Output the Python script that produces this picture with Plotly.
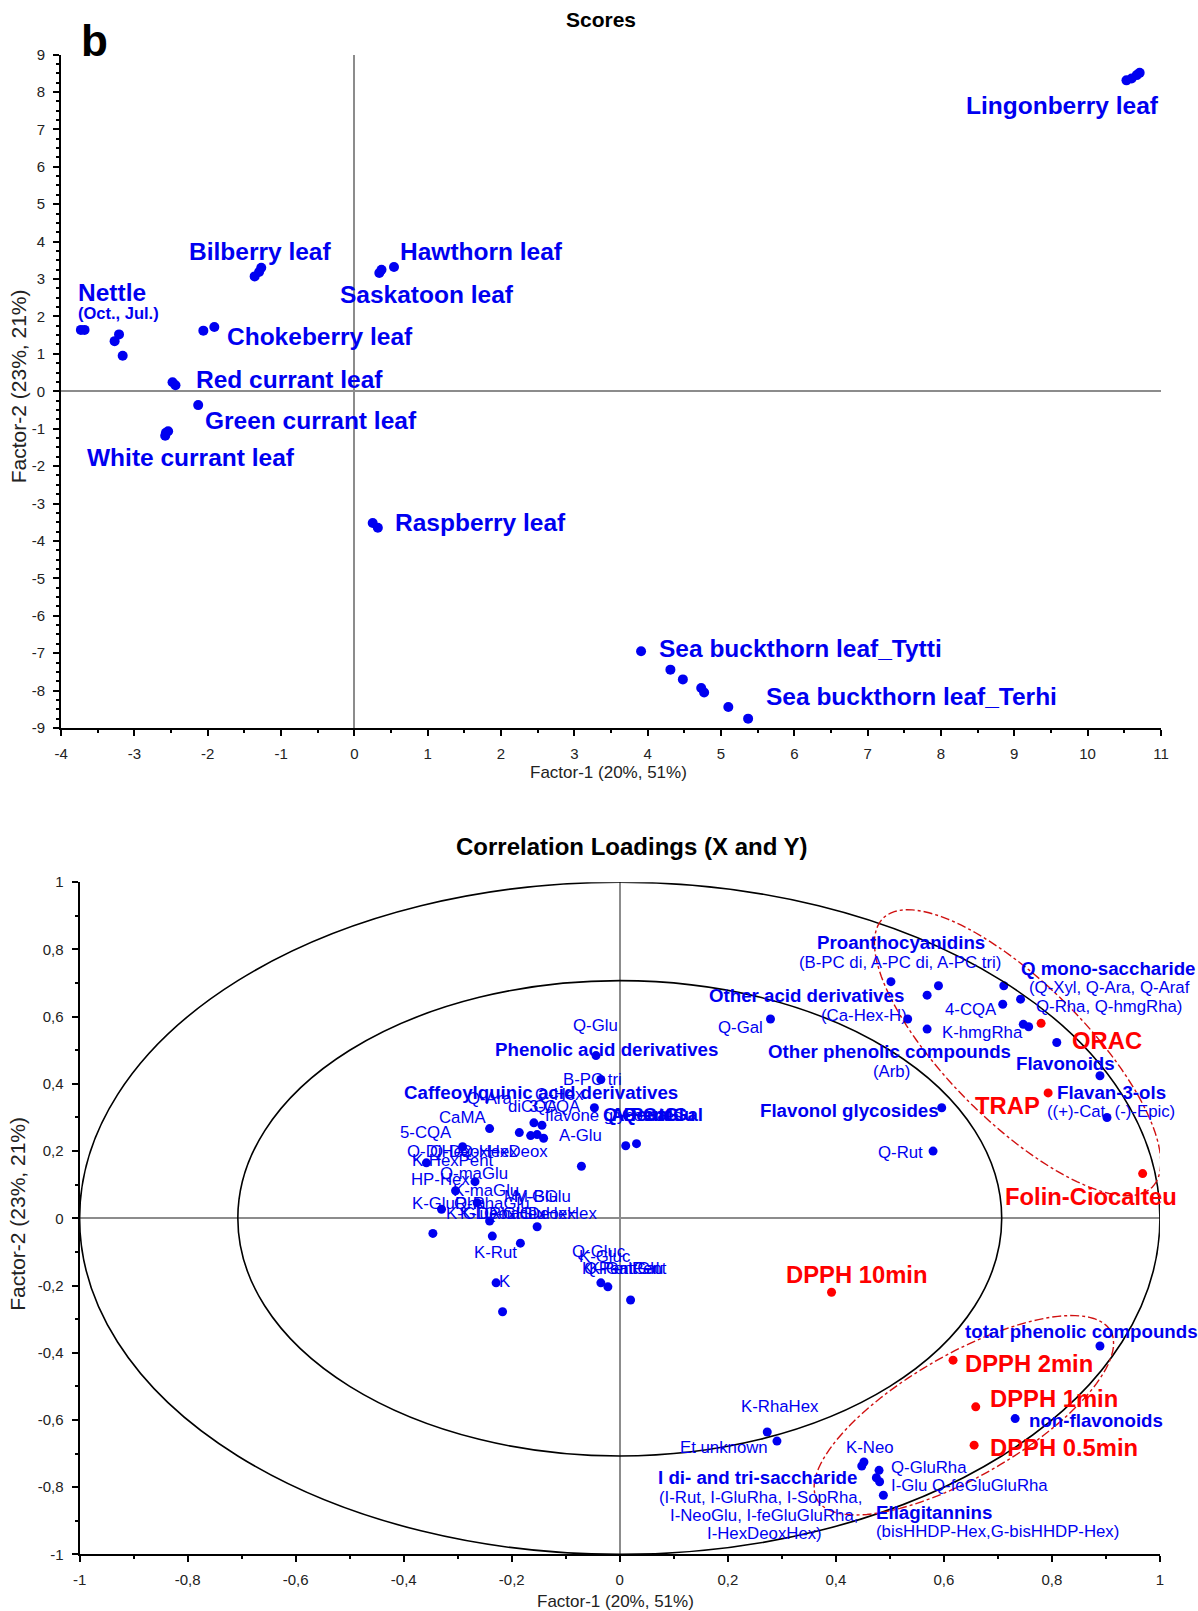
import numpy as np
import plotly.graph_objects as go

# page geometry: the figure is drawn with an 8 px body margin and a slight
# overall reduction when photographed, so page positions are mapped back here
BODY_MARGIN = 8
S_X, S_Y = 0.986, 0.989
W, H = 1215, 1630
FONT = "Liberation Sans, Arial, sans-serif"
BLUE = "#0000f0"
RED = "#ff0000"


def paper(xp, yp):
    """Page pixel position -> paper coordinates."""
    fx = (xp - BODY_MARGIN) / S_X
    fy = (yp - BODY_MARGIN) / S_Y
    return fx / W, 1 - fy / H


# ---------------- Scores (PC1 vs PC2) ----------------
lingonberry_x = [10.53, 10.60, 10.67, 10.71]
lingonberry_y = [8.31, 8.36, 8.45, 8.51]
bilberry_x = [-1.36, -1.30, -1.27]
bilberry_y = [3.07, 3.19, 3.30]
hawthorn_saskatoon_x = [0.34, 0.37, 0.54]
hawthorn_saskatoon_y = [3.16, 3.25, 3.32]
nettle_x = [-3.73, -3.68, -3.21, -3.27, -3.16]
nettle_y = [1.64, 1.64, 1.52, 1.34, 0.95]
chokeberry_x = [-2.06, -1.91]
chokeberry_y = [1.62, 1.72]
red_currant_x = [-2.48, -2.44]
red_currant_y = [0.24, 0.16]
green_currant_x = [-2.13]
green_currant_y = [-0.37]
white_currant_x = [-2.57, -2.54, -2.58]
white_currant_y = [-1.11, -1.07, -1.19]
raspberry_x = [0.25, 0.32]
raspberry_y = [-3.52, -3.65]
sea_buckthorn_x = [3.91, 4.31, 4.48, 4.73, 4.77, 5.10, 5.37]
sea_buckthorn_y = [-6.95, -7.44, -7.70, -7.93, -8.05, -8.44, -8.75]

score_groups = [
    (lingonberry_x, lingonberry_y),
    (bilberry_x, bilberry_y),
    (hawthorn_saskatoon_x, hawthorn_saskatoon_y),
    (nettle_x, nettle_y),
    (chokeberry_x, chokeberry_y),
    (red_currant_x, red_currant_y),
    (green_currant_x, green_currant_y),
    (white_currant_x, white_currant_y),
    (raspberry_x, raspberry_y),
    (sea_buckthorn_x, sea_buckthorn_y),
]

# sample labels: (text, x, y, size)
score_labels = [
    ("Lingonberry leaf", 8.32, 7.65, 24.5),
    ("Bilberry leaf", -2.28, 3.74, 24.5),
    ("Hawthorn leaf", 0.60, 3.74, 24.5),
    ("Nettle", -3.80, 2.65, 24.5),
    ("(Oct., Jul.)", -3.80, 2.09, 16.5),
    ("Saskatoon leaf", -0.22, 2.59, 24.5),
    ("Chokeberry leaf", -1.77, 1.47, 24.5),
    ("Red currant leaf", -2.19, 0.32, 24.5),
    ("Green currant leaf", -2.06, -0.78, 24.5),
    ("White currant leaf", -3.67, -1.76, 24.5),
    ("Raspberry leaf", 0.52, -3.50, 24.5),
    ("Sea buckthorn leaf_Tytti", 4.13, -6.87, 24.5),
    ("Sea buckthorn leaf_Terhi", 5.58, -8.16, 24.5),
]

# ---------------- Correlation loadings ----------------
# X variables (phenolic compounds)
loading_x = [
    0.502, 0.569, 0.590, 0.711, 0.709, 0.742, 0.747, 0.757, 0.809, 0.533,
    0.569, 0.279, 0.889, 0.902, 0.596, 0.580,
    -0.044, -0.035, -0.047, -0.159, -0.144, -0.241, -0.186, -0.165, -0.153, -0.141,
    0.011, 0.031, -0.071, -0.291, -0.358, -0.268, -0.304, -0.264, -0.330, -0.241,
    -0.346, -0.236, -0.153, -0.184,
    -0.229, -0.217, -0.035, -0.022, 0.020,
    0.273, 0.291, 0.452, 0.448, 0.480, 0.475, 0.481, 0.488, 0.732, 0.889,
]
loading_y = [
    0.704, 0.664, 0.692, 0.692, 0.637, 0.652, 0.577, 0.570, 0.523, 0.593,
    0.563, 0.593, 0.424, 0.300, 0.329, 0.200,
    0.484, 0.413, 0.329, 0.284, 0.277, 0.267, 0.255, 0.246, 0.249, 0.238,
    0.216, 0.222, 0.155, 0.213, 0.165, 0.109, 0.082, 0.046, 0.027, -0.008,
    -0.045, -0.053, -0.025, -0.074,
    -0.192, -0.278, -0.192, -0.204, -0.243,
    -0.636, -0.663, -0.725, -0.737, -0.750, -0.772, -0.784, -0.824, -0.596, -0.380,
]

# Y variables (antioxidant assays)
assay_names = ["ORAC", "TRAP", "Folin-Ciocalteu", "DPPH 10min",
               "DPPH 2min", "DPPH 1min", "DPPH 0.5min"]
assay_x = [0.780, 0.793, 0.968, 0.392, 0.617, 0.659, 0.656]
assay_y = [0.580, 0.373, 0.133, -0.220, -0.422, -0.561, -0.675]

# text placements: (text, x, y, style)  style: n=normal, b=bold, r=assay
loading_labels = [
    ("Proanthocyanidins", 0.361, 0.821, "b"),
    ("(B-PC di, A-PC di, A-PC tri)", 0.328, 0.760, "n"),
    ("Q mono-saccharide", 0.739, 0.743, "b"),
    ("(Q-Xyl, Q-Ara, Q-Araf", 0.753, 0.686, "n"),
    ("Q-Rha, Q-hmgRha)", 0.767, 0.629, "n"),
    ("Other acid derivatives", 0.161, 0.662, "b"),
    ("(Ca-Hex-H)", 0.368, 0.603, "n"),
    ("4-CQA", 0.599, 0.621, "n"),
    ("Q-Gal", 0.178, 0.568, "n"),
    ("K-hmgRha", 0.592, 0.552, "n"),
    ("Other phenolic compounds", 0.271, 0.496, "b"),
    ("Flavonoids", 0.730, 0.461, "b"),
    ("(Arb)", 0.465, 0.438, "n"),
    ("Flavan-3-ols", 0.805, 0.374, "b"),
    ("((+)-Cat, (-)-Epic)", 0.787, 0.317, "n"),
    ("Flavonol glycosides", 0.255, 0.320, "b"),
    ("Q-Rut", 0.475, 0.196, "n"),
    ("Q-Glu", -0.091, 0.575, "n"),
    ("Phenolic acid derivatives", -0.235, 0.502, "b"),
    ("B-PC tri", -0.109, 0.414, "n"),
    ("Q-Ara", -0.287, 0.355, "n"),
    ("Q-Hex", -0.160, 0.367, "n"),
    ("diCQA", -0.210, 0.332, "n"),
    ("3-CQA", -0.172, 0.332, "n"),
    ("Caffeoylquinic acid derivatives", -0.404, 0.374, "b"),
    ("flavone glycosides", -0.143, 0.305, "n"),
    ("Q-PentGlu", -0.034, 0.310, "b"),
    ("A-Pent", -0.020, 0.310, "b"),
    ("Q-GalGal", 0.000, 0.310, "b"),
    ("A-Glu", -0.117, 0.246, "n"),
    ("CaMA", -0.338, 0.300, "n"),
    ("5-CQA", -0.411, 0.255, "n"),
    ("Q-DiHex", -0.398, 0.200, "n"),
    ("Q-DeoxHex", -0.355, 0.200, "n"),
    ("Q-HexDeox", -0.300, 0.200, "n"),
    ("K-HexPent", -0.389, 0.173, "n"),
    ("HP-Hex", -0.390, 0.115, "n"),
    ("Q-maGlu", -0.337, 0.133, "n"),
    ("K-maGlu", -0.312, 0.082, "n"),
    ("My-Glu", -0.218, 0.066, "n"),
    ("M-BGlu", -0.200, 0.066, "n"),
    ("K-GluRha", -0.389, 0.043, "n"),
    ("Q-RhaGlu", -0.310, 0.043, "n"),
    ("K-GluRhaGlu", -0.325, 0.013, "n"),
    ("K-DeoxHexHex", -0.300, 0.013, "n"),
    ("Q-GlcDeoxHex", -0.255, 0.013, "n"),
    ("K-Rut", -0.273, -0.102, "n"),
    ("K", -0.228, -0.187, "n"),
    ("Q-Gluc", -0.092, -0.098, "n"),
    ("K-Gluc", -0.080, -0.115, "n"),
    ("K-PentGal", -0.073, -0.150, "n"),
    ("Q-PentGlu", -0.070, -0.150, "n"),
    ("K-GalPent", -0.060, -0.150, "n"),
    ("total phenolic compounds", 0.636, -0.338, "b"),
    ("non-flavonoids", 0.753, -0.601, "b"),
    ("K-RhaHex", 0.221, -0.561, "n"),
    ("Et unknown", 0.107, -0.682, "n"),
    ("K-Neo", 0.415, -0.682, "n"),
    ("Q-GluRha", 0.498, -0.742, "n"),
    ("I di- and tri-saccharide", 0.067, -0.772, "b"),
    ("I-Glu Q-feGluGluRha", 0.499, -0.796, "n"),
    ("(I-Rut, I-GluRha, I-SopRha,", 0.069, -0.832, "n"),
    ("I-NeoGlu, I-feGluGluRha,", 0.090, -0.883, "n"),
    ("I-HexDeoxHex)", 0.158, -0.938, "n"),
    ("Ellagitannins", 0.471, -0.874, "b"),
    ("(bisHHDP-Hex,G-bisHHDP-Hex)", 0.471, -0.933, "n"),
    ("ORAC", 0.834, 0.530, "r"),
    ("TRAP", 0.654, 0.337, "r"),
    ("Folin-Ciocalteu", 0.710, 0.064, "r"),
    ("DPPH 10min", 0.304, -0.168, "r"),
    ("DPPH 2min", 0.636, -0.432, "r"),
    ("DPPH 1min", 0.681, -0.536, "r"),
    ("DPPH 0.5min", 0.681, -0.682, "r"),
]

# tick labels (hyphen minus; decimal comma on the loadings plot)
load_tickvals = [-1, -0.8, -0.6, -0.4, -0.2, 0, 0.2, 0.4, 0.6, 0.8, 1]
load_ticktext = ["-1", "-0,8", "-0,6", "-0,4", "-0,2", "0", "0,2", "0,4", "0,6", "0,8", "1"]
score_xticks = list(range(-4, 12))
score_xticktext = [str(v) for v in score_xticks]
score_yticks = list(range(-9, 10))
score_yticktext = [str(v) for v in score_yticks]

# ---------------- layout geometry (page pixels) ----------------
P1_LEFT, P1_RIGHT, P1_TOP, P1_BOTTOM = 62, 1160, 53.5, 726.6
P2_LEFT, P2_RIGHT, P2_TOP, P2_BOTTOM = 80.5, 1159, 880.7, 1552.5

x1a, y1a = paper(P1_LEFT, P1_TOP)
x1b, y1b = paper(P1_RIGHT, P1_BOTTOM)
x2a, y2a = paper(P2_LEFT, P2_TOP)
x2b, y2b = paper(P2_RIGHT, P2_BOTTOM)
X1_DOM, Y1_DOM = [x1a, x1b], [y1b, y1a]
X2_DOM, Y2_DOM = [x2a, x2b], [y2b, y2a]
X1_RANGE, Y1_RANGE = [-4, 11], [-9, 9]
X2_RANGE, Y2_RANGE = [-1, 1], [-1, 1]

fig = go.Figure()

for gx, gy in score_groups:
    fig.add_trace(go.Scatter(x=gx, y=gy, mode="markers", xaxis="x", yaxis="y",
                             marker=dict(color=BLUE, size=10), showlegend=False,
                             hoverinfo="skip"))

fig.add_trace(go.Scatter(x=loading_x, y=loading_y, mode="markers", xaxis="x2", yaxis="y2",
                         marker=dict(color=BLUE, size=9), showlegend=False))
fig.add_trace(go.Scatter(x=assay_x, y=assay_y, mode="markers", xaxis="x2", yaxis="y2",
                         text=assay_names, marker=dict(color=RED, size=9), showlegend=False))

annotations = []
for text, x, y, size in score_labels:
    annotations.append(dict(text=f"<b>{text}</b>", x=x, y=y, xref="x", yref="y",
                            xanchor="left", yanchor="middle", showarrow=False,
                            font=dict(family=FONT, size=size, color=BLUE)))

styles = {
    "n": dict(size=16.8, bold=False, color=BLUE),
    "b": dict(size=18.7, bold=True, color=BLUE),
    "r": dict(size=23.8, bold=True, color=RED),
}
for text, x, y, st in loading_labels:
    s = styles[st]
    label = f"<b>{text}</b>" if s["bold"] else text
    annotations.append(dict(text=label, x=x, y=y, xref="x2", yref="y2", xanchor="left",
                            yanchor="middle", showarrow=False,
                            font=dict(family=FONT, size=s["size"], color=s["color"])))


def page_text(text, xp, yp, size, color="black", angle=0, xanchor="center"):
    px_, py_ = paper(xp, yp)
    return dict(text=text, x=px_, y=py_, xref="paper", yref="paper", xanchor=xanchor,
                yanchor="middle", textangle=angle, showarrow=False,
                font=dict(family=FONT, size=size, color=color))


annotations += [
    page_text("<b>Scores</b>", 601, 18, 21),
    page_text("<b>Correlation Loadings (X and Y)</b>", 632, 845, 24),
    page_text("<b>b</b>", 80, 39, 44, xanchor="left"),
    page_text("Factor-1 (20%, 51%)", 608, 771, 17, color="#222"),
    page_text("Factor-1 (20%, 51%)", 615, 1600, 17, color="#222"),
    page_text("Factor-2 (23%, 21%)", 19, 385, 21, color="#222", angle=-90),
    page_text("Factor-2 (23%, 21%)", 19, 1212, 21, color="#222", angle=-90),
]

# loading plot scale in page pixels per data unit
SX2 = (P2_RIGHT - P2_LEFT) / (X2_RANGE[1] - X2_RANGE[0])
SY2 = (P2_BOTTOM - P2_TOP) / (Y2_RANGE[1] - Y2_RANGE[0])


def ellipse_path(cx, cy, a_px, b_px, angle_deg, n=120):
    """Rotated ellipse drawn in screen space, expressed in loading-plot data units."""
    t = np.linspace(0, 2 * np.pi, n)
    th = np.deg2rad(angle_deg)
    dx = a_px * np.cos(t) * np.cos(th) - b_px * np.sin(t) * np.sin(th)
    dy = a_px * np.cos(t) * np.sin(th) + b_px * np.sin(t) * np.cos(th)
    xs = cx + dx / SX2
    ys = cy + dy / SY2
    pts = [f"{x:.4f},{y:.4f}" for x, y in zip(xs, ys)]
    return "M " + " L ".join(pts) + " Z"


shapes = [
    dict(type="circle", xref="x2", yref="y2", x0=-1, x1=1, y0=-1, y1=1,
         line=dict(color="black", width=1.6)),
    dict(type="circle", xref="x2", yref="y2", x0=-np.sqrt(0.5), x1=np.sqrt(0.5),
         y0=-np.sqrt(0.5), y1=np.sqrt(0.5), line=dict(color="black", width=1.6)),
    # group of assays correlating with flavonoid/proanthocyanidin content
    dict(type="path", xref="x2", yref="y2", path=ellipse_path(0.7365, 0.4926, 190, 69, -45),
         line=dict(color="#d01010", width=1.4, dash="dashdot")),
    # group of DPPH assays with ellagitannins and non-flavonoids
    dict(type="path", xref="x2", yref="y2", path=ellipse_path(0.637, -0.586, 169, 61, 30),
         line=dict(color="#d01010", width=1.4, dash="dashdot")),
]

axis_common = dict(showline=True, linecolor="black", linewidth=2, ticks="outside",
                   ticklen=6, tickwidth=1.5, tickcolor="black", showgrid=False,
                   zeroline=True, zerolinecolor="#8c8c8c", zerolinewidth=1.5,
                   ticklabelstandoff=5,
                   tickfont=dict(family=FONT, size=15, color="#222"))

fig.update_layout(
    width=W, height=H, margin=dict(l=0, r=0, t=0, b=0),
    paper_bgcolor="white", plot_bgcolor="white",
    xaxis=dict(domain=X1_DOM, range=X1_RANGE, anchor="y", tickvals=score_xticks,
               ticktext=score_xticktext,
               minor=dict(dtick=0.5, ticks="outside", ticklen=3, tickcolor="black"),
               **axis_common),
    yaxis=dict(domain=Y1_DOM, range=Y1_RANGE, anchor="x", tickvals=score_yticks,
               ticktext=score_yticktext,
               minor=dict(dtick=0.25, ticks="outside", ticklen=3, tickcolor="black"),
               **axis_common),
    xaxis2=dict(domain=X2_DOM, range=X2_RANGE, anchor="y2", tickvals=load_tickvals,
                ticktext=load_ticktext,
                minor=dict(dtick=0.1, ticks="outside", ticklen=3, tickcolor="black"),
                **axis_common),
    yaxis2=dict(domain=Y2_DOM, range=Y2_RANGE, anchor="x2", tickvals=load_tickvals,
                ticktext=load_ticktext,
                minor=dict(dtick=0.1, ticks="outside", ticklen=3, tickcolor="black"),
                **axis_common),
    annotations=annotations,
    shapes=shapes,
)

fig.write_html("out.html")
